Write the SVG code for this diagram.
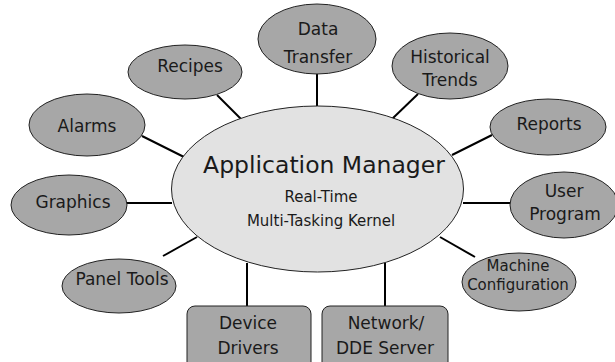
<svg xmlns="http://www.w3.org/2000/svg" width="615" height="362" viewBox="0 0 615 362">
<style>
.n{fill:#a7a7a7;stroke:#222;stroke-width:1}
.c{fill:#e2e2e2;stroke:#222;stroke-width:1}
.t{font-family:"DejaVu Sans","Liberation Sans",sans-serif;font-size:17px;fill:#1a1a1a;text-anchor:middle}
.s{font-size:15px}
.big{font-size:23.5px}
.ln{stroke:#000;stroke-width:2;fill:none}
</style>
<rect width="615" height="362" fill="#fff"/>
<g id="connectors">
<line class="ln" x1="217" y1="95" x2="242" y2="120"/>
<line class="ln" x1="142" y1="136" x2="184" y2="157"/>
<line class="ln" x1="317" y1="73" x2="317" y2="107"/>
<line class="ln" x1="418" y1="94" x2="392" y2="119"/>
<line class="ln" x1="492" y1="135" x2="452" y2="155"/>
<line class="ln" x1="127" y1="203" x2="172" y2="203"/>
<line class="ln" x1="163" y1="256" x2="197" y2="237"/>
<line class="ln" x1="247" y1="263" x2="247" y2="307"/>
<line class="ln" x1="385" y1="263" x2="385" y2="307"/>
<line class="ln" x1="463" y1="203" x2="510" y2="203"/>
<line class="ln" x1="440" y1="237" x2="475" y2="257"/>
</g>
<g id="app-manager">
<ellipse class="c" cx="317.5" cy="189" rx="146" ry="83"/>
<text class="t big" x="324" y="173">Application Manager</text>
<text class="t s" x="321" y="202">Real-Time</text>
<text class="t s" x="321" y="226">Multi-Tasking Kernel</text>
</g>
<g id="data-transfer">
<ellipse class="n" cx="317" cy="39" rx="59" ry="35"/>
<text class="t" x="318" y="35">Data</text>
<text class="t" x="318" y="63">Transfer</text>
</g>
<g id="recipes">
<ellipse class="n" cx="185" cy="72" rx="57" ry="27"/>
<text class="t" x="190" y="72">Recipes</text>
</g>
<g id="alarms">
<ellipse class="n" cx="87" cy="125" rx="58" ry="31"/>
<text class="t" x="87" y="132">Alarms</text>
</g>
<g id="historical-trends">
<ellipse class="n" cx="450" cy="66" rx="58" ry="33"/>
<text class="t" x="450" y="63">Historical</text>
<text class="t" x="450" y="86">Trends</text>
</g>
<g id="reports">
<ellipse class="n" cx="548" cy="127" rx="58" ry="28"/>
<text class="t" x="549" y="130">Reports</text>
</g>
<g id="graphics">
<ellipse class="n" cx="69" cy="205" rx="58" ry="30"/>
<text class="t" x="73" y="208">Graphics</text>
</g>
<g id="user-program">
<ellipse class="n" cx="564" cy="205" rx="54" ry="33"/>
<text class="t" x="564" y="197">User</text>
<text class="t" x="565" y="220">Program</text>
</g>
<g id="panel-tools">
<ellipse class="n" cx="119" cy="286" rx="57" ry="27"/>
<text class="t" x="122" y="285">Panel Tools</text>
</g>
<g id="machine-configuration">
<ellipse class="n" cx="519" cy="282" rx="57" ry="29"/>
<text class="t s" x="518" y="271">Machine</text>
<text class="t s" x="518" y="290">Configuration</text>
</g>
<g id="device-drivers">
<rect class="n" x="187" y="306" width="124" height="70" rx="8"/>
<text class="t" x="248" y="329">Device</text>
<text class="t" x="248" y="354">Drivers</text>
</g>
<g id="network-dde">
<rect class="n" x="322" y="306" width="126" height="70" rx="8"/>
<text class="t" x="386" y="329">Network/</text>
<text class="t" x="385" y="354">DDE Server</text>
</g>
</svg>
